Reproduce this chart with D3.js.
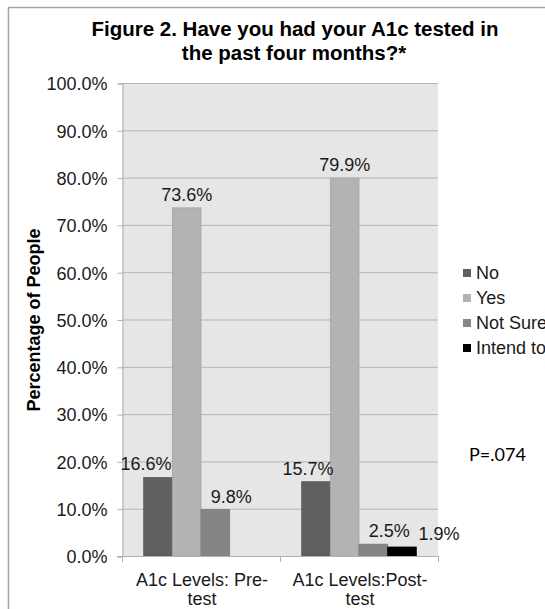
<!DOCTYPE html>
<html>
<head>
  <meta charset="utf-8">
  <title>Figure 2. A1c tested</title>
  <style>
  body { margin: 0; background: #fff; }
  svg text { font-family: "Liberation Sans", Arial, sans-serif; fill: #1a1a1a; }
  .title { font-weight: bold; font-size: 20.5px; text-anchor: middle; fill: #000; }
  .y-title { font-weight: bold; font-size: 18px; text-anchor: middle; fill: #000; }
  .tick-label { font-size: 18px; }
  .p-note { font-family: Lato, "Open Sans", sans-serif !important; font-size: 18px; fill: #000 !important; }
  </style>
</head>
<body>
  <div id="chart"></div>
  <script src="https://cdn.jsdelivr.net/npm/d3@7"></script>
  <script>
  // data
  var categories = ["A1c Levels: Pre-test", "A1c Levels:Post-test"];
  var seriesNames = ["No", "Yes", "Not Sure", "Intend to get tested"];
  var noValues = [16.6, 15.7];
  var yesValues = [73.6, 79.9];
  var notSureValues = [9.8, 2.5];
  var intendValues = [null, 1.9];
  var yTicks = [0, 10, 20, 30, 40, 50, 60, 70, 80, 90, 100];
  var pNote = "P=.074";

  var seriesValues = [noValues, yesValues, notSureValues, intendValues];
  var colors = ["#606060", "#b3b3b3", "#858585", "#000000"];

  var width = 545, height = 609;
  var plot = {left: 122, right: 438, top: 83, bottom: 556};

  var svg = d3.select("#chart").append("svg")
    .attr("width", width)
    .attr("height", height);

  // outer frame (runs off the right and bottom edge)
  svg.append("path")
    .attr("d", "M8.5," + height + "V7.5H" + width)
    .attr("fill", "none")
    .attr("stroke", "#a6a6a6")
    .attr("stroke-width", 1.5);

  // title
  svg.append("text").attr("class", "title")
    .attr("x", 295).attr("y", 36)
    .text("Figure 2. Have you had your A1c tested in");
  svg.append("text").attr("class", "title")
    .attr("x", 294).attr("y", 60)
    .text("the past four months?*");

  var x = d3.scaleBand()
    .domain(categories)
    .range([plot.left, plot.right]);

  var xs = d3.scaleBand()
    .domain(seriesNames)
    .range([21.7, x.bandwidth() - 21.7]);

  var y = d3.scaleLinear()
    .domain([0, 100])
    .range([plot.bottom, plot.top]);

  // plot background
  svg.append("rect")
    .attr("x", plot.left).attr("y", plot.top)
    .attr("width", plot.right - plot.left)
    .attr("height", plot.bottom - plot.top)
    .attr("fill", "#e6e6e6");

  // gridlines
  svg.append("g")
    .selectAll("line")
    .data(yTicks.slice(1))
    .enter().append("line")
    .attr("x1", plot.left).attr("x2", plot.right)
    .attr("y1", function(d) { return y(d) + 0.5; })
    .attr("y2", function(d) { return y(d) + 0.5; })
    .attr("stroke", "#b5b5b5");

  // y axis
  var yAxis = svg.append("g")
    .attr("transform", "translate(" + (plot.left + 0.5) + ",0.5)")
    .call(d3.axisLeft(y).tickValues(yTicks).tickSize(5).tickPadding(10)
      .tickFormat(function(d) { return d.toFixed(1) + "%"; }));
  yAxis.select(".domain").attr("stroke", "#b0b0b0");
  yAxis.selectAll(".tick line").attr("stroke", "#b0b0b0");
  yAxis.selectAll("text").attr("class", "tick-label").attr("fill", "#1a1a1a")
    .attr("font-family", null).attr("font-size", null).attr("dy", "0.35em");

  svg.append("text").attr("class", "y-title")
    .attr("transform", "translate(40,320) rotate(-90)")
    .text("Percentage of People");

  // bars
  var cells = [];
  categories.forEach(function(c, ci) {
    seriesNames.forEach(function(s, si) {
      var v = seriesValues[si][ci];
      if (v != null) cells.push({cat: c, ci: ci, series: s, si: si, value: v});
    });
  });

  svg.append("g")
    .selectAll("rect")
    .data(cells)
    .enter().append("rect")
    .attr("x", function(d) { return x(d.cat) + xs(d.series); })
    .attr("y", function(d) { return y(d.value); })
    .attr("width", xs.bandwidth())
    .attr("height", function(d) { return y(0) - y(d.value); })
    .attr("fill", function(d) { return colors[d.si]; })
    .attr("stroke", function(d) { return d.si === 3 ? "#000" : d3.color(colors[d.si]).darker(0.25); })
    .attr("stroke-width", 0.8);

  // x axis line and ticks
  var xAxis = svg.append("g");
  xAxis.append("line")
    .attr("x1", plot.left - 5).attr("x2", plot.right)
    .attr("y1", plot.bottom + 0.5).attr("y2", plot.bottom + 0.5)
    .attr("stroke", "#b0b0b0");
  xAxis.selectAll(".xt")
    .data([plot.left, plot.left + x.step(), plot.right])
    .enter().append("line")
    .attr("x1", function(d) { return d + 0.5; })
    .attr("x2", function(d) { return d + 0.5; })
    .attr("y1", plot.bottom).attr("y2", plot.bottom + 6)
    .attr("stroke", "#b0b0b0");

  // category labels, wrapped after the hyphen
  svg.append("g")
    .selectAll("text")
    .data(categories)
    .enter().append("text")
    .attr("class", "tick-label")
    .attr("text-anchor", "middle")
    .each(function(d) {
      var cut = d.lastIndexOf("-") + 1;
      var lines = [d.slice(0, cut), d.slice(cut)];
      var t = d3.select(this);
      lines.forEach(function(l, i) {
        t.append("tspan")
          .attr("x", x(d) + x.bandwidth() / 2 + 1)
          .attr("y", 586 + i * 19)
          .text(l);
      });
    });

  // value labels (nudged the way the original chart placed them)
  var labelNudge = {"0-0": -12, "0-2": 16, "1-0": -8, "1-2": 16, "1-3": 37};
  svg.append("g")
    .selectAll("text")
    .data(cells)
    .enter().append("text")
    .attr("class", "tick-label")
    .attr("text-anchor", "middle")
    .attr("x", function(d) {
      return x(d.cat) + xs(d.series) + xs.bandwidth() / 2 + (labelNudge[d.ci + "-" + d.si] || 0);
    })
    .attr("y", function(d) { return y(d.value) - 7; })
    .text(function(d) { return d.value.toFixed(1) + "%"; });

  // legend
  var legend = svg.append("g")
    .selectAll("g")
    .data(seriesNames)
    .enter().append("g")
    .attr("transform", function(d, i) { return "translate(463," + (273 + i * 25) + ")"; });

  legend.append("rect")
    .attr("x", 0).attr("y", -4)
    .attr("width", 8).attr("height", 8)
    .attr("fill", function(d, i) { return colors[i]; });

  legend.append("text")
    .attr("class", "tick-label")
    .attr("x", 13).attr("y", 0)
    .attr("dy", "0.35em")
    .text(function(d) { return d; });

  // p value note
  svg.append("text")
    .attr("class", "p-note")
    .attr("x", 469).attr("y", 461)
    .text(pNote);
  </script>
</body>
</html>
